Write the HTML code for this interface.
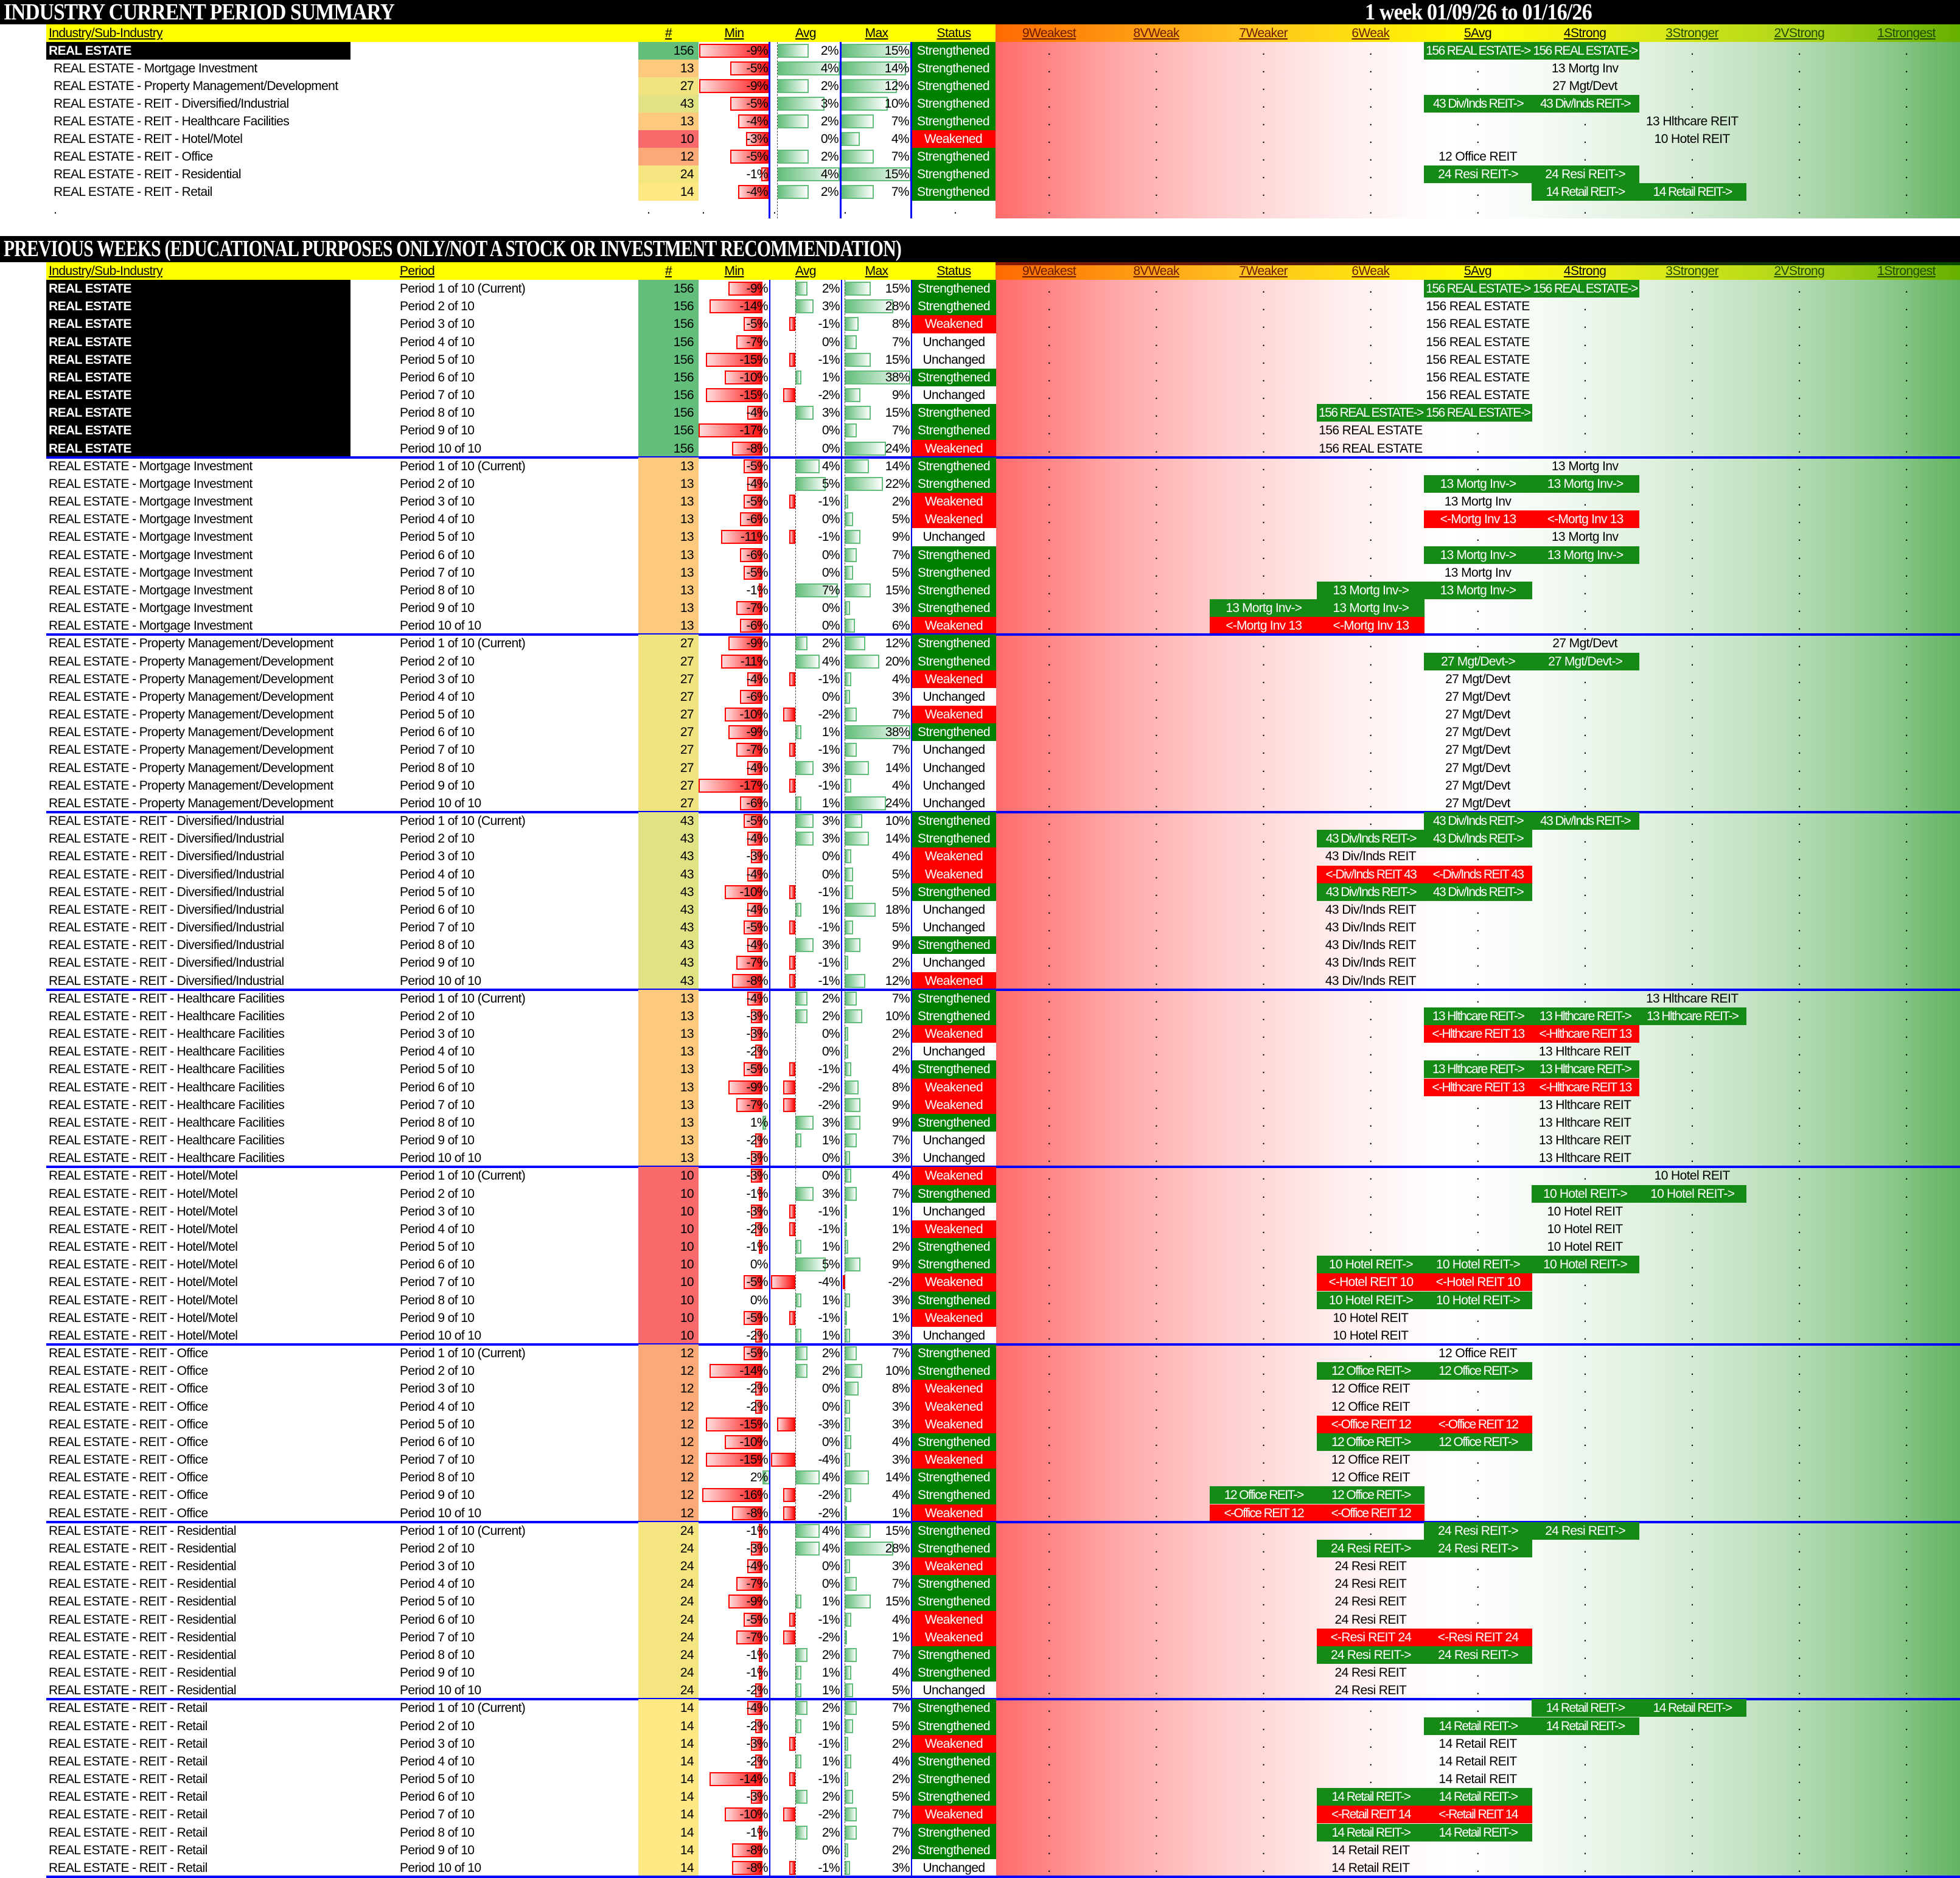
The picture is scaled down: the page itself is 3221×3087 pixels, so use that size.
<!DOCTYPE html>
<html><head><meta charset="utf-8">
<style>
html,body{margin:0;padding:0;background:#fff;}
#root{position:relative;width:3221px;height:3087px;overflow:hidden;font-family:"Liberation Sans",sans-serif;}
#root div{position:absolute;box-sizing:border-box;white-space:nowrap;}
.t{font-size:21px;line-height:29px;letter-spacing:-0.6px;color:#000;}
.title{color:#fff;font-family:"Liberation Serif",serif;font-weight:bold;font-size:38px;line-height:40px;transform-origin:left center;letter-spacing:-1px;}
.hdr{font-size:21px;line-height:29px;text-decoration:underline;letter-spacing:-0.6px;}
</style></head>
<body>
<div id="root"></div>
<script>
// ---- data ----
const FULL = ["REAL ESTATE","REAL ESTATE - Mortgage Investment","REAL ESTATE - Property Management/Development","REAL ESTATE - REIT - Diversified/Industrial","REAL ESTATE - REIT - Healthcare Facilities","REAL ESTATE - REIT - Hotel/Motel","REAL ESTATE - REIT - Office","REAL ESTATE - REIT - Residential","REAL ESTATE - REIT - Retail"];
const SHORT = ["REAL ESTATE","Mortg Inv","Mgt/Devt","Div/Inds REIT","Hlthcare REIT","Hotel REIT","Office REIT","Resi REIT","Retail REIT"];
const COUNTS = [156,13,27,43,13,10,12,24,14];
const RATING_LABELS = ["9Weakest","8VWeak","7Weaker","6Weak","5Avg","4Strong","3Stronger","2VStrong","1Strongest"];
const sumMin = [-9,-5,-9,-5,-4,-3,-5,-1,-4];
const sumAvg = [2,4,2,3,2,0,2,4,2];
const sumMax = [15,14,12,10,7,4,7,15,7];
const sumStatus = ["S","S","S","S","S","W","S","S","S"];
const sumRating = ["G4:2","L5","L5","G4:2","L6","L6","L4","G4:2","G5:2"];
const prevMin = [
 [-9,-14,-5,-7,-15,-10,-15,-4,-17,-8],
 [-5,-4,-5,-6,-11,-6,-5,-1,-7,-6],
 [-9,-11,-4,-6,-10,-9,-7,-4,-17,-6],
 [-5,-4,-3,-4,-10,-4,-5,-4,-7,-8],
 [-4,-3,-3,-2,-5,-9,-7,1,-2,-3],
 [-3,-1,-3,-2,-1,0,-5,0,-5,-2],
 [-5,-14,-2,-2,-15,-10,-15,2,-16,-8],
 [-1,-3,-4,-7,-9,-5,-7,-1,-1,-2],
 [-4,-2,-3,-2,-14,-3,-10,-1,-8,-8]];
const prevAvg = [
 [2,3,-1,0,-1,1,-2,3,0,0],
 [4,5,-1,0,-1,0,0,7,0,0],
 [2,4,-1,0,-2,1,-1,3,-1,1],
 [3,3,0,0,-1,1,-1,3,-1,-1],
 [2,2,0,0,-1,-2,-2,3,1,0],
 [0,3,-1,-1,1,5,-4,1,-1,1],
 [2,2,0,0,-3,0,-4,4,-2,-2],
 [4,4,0,0,1,-1,-2,2,1,1],
 [2,1,-1,1,-1,2,-2,2,0,-1]];
const prevMax = [
 [15,28,8,7,15,38,9,15,7,24],
 [14,22,2,5,9,7,5,15,3,6],
 [12,20,4,3,7,38,7,14,4,24],
 [10,14,4,5,5,18,5,9,2,12],
 [7,10,2,2,4,8,9,9,7,3],
 [4,7,1,1,2,9,-2,3,1,3],
 [7,10,8,3,3,4,3,14,4,1],
 [15,28,3,7,15,4,1,7,4,5],
 [7,5,2,4,2,5,7,7,2,3]];
const prevStatus = [
 ["S","S","W","U","U","S","U","S","S","W"],
 ["S","S","W","W","U","S","S","S","S","W"],
 ["S","S","W","U","W","S","U","U","U","U"],
 ["S","S","W","W","S","U","U","S","U","W"],
 ["S","S","W","U","S","W","W","S","U","U"],
 ["W","S","U","W","S","S","W","S","W","U"],
 ["S","S","W","W","W","S","W","S","S","W"],
 ["S","S","W","S","S","W","W","S","S","U"],
 ["S","S","W","S","S","S","W","S","S","U"]];
const prevRating = [
 ["G4:2","L4","L4","L4","L4","L4","L4","G3:2","L3","L3"],
 ["L5","G4:2","L4","R4:2","L5","G4:2","L4","G3:2","G2:2","R2:2"],
 ["L5","G4:2","L4","L4","L4","L4","L4","L4","L4","L4"],
 ["G4:2","G3:2","L3","R3:2","G3:2","L3","L3","L3","L3","L3"],
 ["L6","G4:3","R4:2","L5","G4:2","R4:2","L5","L5","L5","L5"],
 ["L6","G5:2","L5","L5","L5","G3:3","R3:2","G3:2","L3","L3"],
 ["L4","G3:2","L3","L3","R3:2","G3:2","L3","L3","G2:2","R2:2"],
 ["G4:2","G3:2","L3","L3","L3","L3","R3:2","G3:2","L3","L3"],
 ["G5:2","G4:2","L4","L4","L4","G3:2","R3:2","G3:2","L3","L3"]];

// ---- layout ----
const root = document.getElementById('root');
const R0 = 1636, RW = (3221-1636)/9;
function mk(name, inter, x, y, w, h, css, text) {
  const el = document.createElement('div');
  
  
  el.style.cssText = `left:${x}px;top:${y}px;width:${w}px;height:${h}px;` + (css||'');
  if (text !== undefined) el.textContent = text;
  root.appendChild(el);
  return el;
}
const countColor = {156:'#63be7b',13:'#fdc97d',27:'#f1e480',43:'#e1e283',10:'#f8696b',12:'#fbaa77',24:'#f4e581',14:'#ffe884'};
const REDBAR = 'background:linear-gradient(to right,#ffdcdc,#ff1010);border:2px solid #ff0000;';
const GRNBAR = 'background:linear-gradient(to right,#63be7b,#ffffff);border:2px solid #63be7b;';

function titleBar(y, h, text, name, sx) {
  mk(name+'-bar','false',0,y,3221,h,'background:#000;');
  const t = mk(name,'false',6,y,2000,h,'','');
  t.className='title';
  t.style.lineHeight = h+'px';
  t.style.transform='scaleX('+sx+')';
  t.textContent = text;
}
function header(y, withPeriod, name) {
  mk(name+'-bg','false',76,y,R0-76,29,'background:#ffff00;');
  mk(name+'-rating-bg','false',R0,y,3221-R0,29,'background:linear-gradient(to right,#ff6a00 0%,#ffc020 25%,#ffff00 50%,#eef018 62%,#a8d418 85%,#66b000 100%);');
  const hs = [['header-industry','Industry/Sub-Industry',80,'left',400]];
  if (withPeriod) hs.push(['header-period','Period',657,'left',200]);
  hs.push(['header-count','#',1049,'center',99],['header-min','Min',1148,'center',117],['header-avg','Avg',1265,'center',118],['header-max','Max',1383,'center',115],['header-status','Status',1498,'center',139]);
  hs.forEach(h=>{ const e=mk(h[0],'false',h[2],y,h[4],29,`text-align:${h[3]};font-weight:normal;`,h[1]); e.className='hdr'; });
  RATING_LABELS.forEach((l,c)=>{
    const col = c<4 ? '#6b1a00' : (c<6 ? '#000' : '#1f4a00');
    const e = mk('header-rating-'+l.toLowerCase(),'false',R0+c*RW,y,RW,29,`text-align:center;color:${col};`,l);
    e.className='hdr';
  });
}
function ratingBg(y, h, name) {
  mk(name,'false',R0,y,3221-R0,h,'background:linear-gradient(to right,#ff6b6b 0%,#ffa6a6 12%,#ffcfcf 24%,#ffeeee 36%,#ffffff 47%,#f6fbf6 56%,#dff0df 68%,#bfe0bf 80%,#8fca8f 92%,#63b363 100%);');
}
function ratingCells(y, h, spec, gi) {
  const type = spec[0];
  const parts = spec.slice(1).split(':');
  const c0 = +parts[0], span = parts[1] ? +parts[1] : 1;
  for (let c=0;c<9;c++) {
    const x = R0 + c*RW;
    if (c>=c0 && c<c0+span) {
      let txt, css;
      if (type==='L') { txt = COUNTS[gi]+' '+SHORT[gi]; css='text-align:center;'; }
      else if (type==='G') { txt = COUNTS[gi]+' '+SHORT[gi]+'->'; css='text-align:center;background:#168a16;'; }
      else { txt = '<-'+SHORT[gi]+' '+COUNTS[gi]; css='text-align:center;background:#ff0000;'; }
      const e = mk(type==='L'?'rating-label':'rating-move-box','false',x,y,RW+(type==='L'?0:1),h,css,txt);
      e.className='t';
      e.style.lineHeight = h+'px';
      if (type!=='L') { e.style.color='#fff'; e.style.letterSpacing = txt.length>15 ? '-1.6px' : '-0.8px'; }
    } else {
      const e = mk('rating-dot','false',x,y,RW,h,'text-align:center;','.');
      e.className='t';
      e.style.lineHeight = h+'px';
    }
  }
}
function statusCell(x, y, w, h, s) {
  const map = {S:['Strengthened','#008000','#fff'],W:['Weakened','#ff0000','#fff'],U:['Unchanged','#fff','#000']};
  const m = map[s];
  const e = mk('status-'+m[0].toLowerCase(),'false',x,y,w,h,`background:${m[1]};text-align:center;`,m[0]);
  e.className='t'; e.style.lineHeight=h+'px'; e.style.color=m[2];
}
function barsRow(y, h, mn, av, mx, ax, name) {
  if (mn<0) mk(name+'-min-bar','false',ax.min + mn*ax.minS,y+3,-mn*ax.minS,h-6,REDBAR);
  else if (mn>0) mk(name+'-min-bar','false',ax.min,y+3,mn*ax.minS,h-6,GRNBAR);
  let e = mk(name+'-min-value','false',ax.min-100,y,ax.minEnd-(ax.min-100),h,'text-align:right;',mn+'%'); e.className='t'; e.style.lineHeight=h+'px';
  if (av<0) mk(name+'-avg-bar','false',ax.avg + av*ax.avgS,y+3,-av*ax.avgS,h-6,REDBAR);
  else if (av>0) mk(name+'-avg-bar','false',ax.avg,y+3,av*ax.avgS,h-6,GRNBAR);
  e = mk(name+'-avg-value','false',ax.avg,y,ax.avgEnd-ax.avg,h,'text-align:right;',av+'%'); e.className='t'; e.style.lineHeight=h+'px';
  if (mx>0) mk(name+'-max-bar','false',ax.max,y+3,mx*ax.maxS,h-6,GRNBAR);
  else if (mx<0) mk(name+'-max-bar','false',ax.max-3,y+3,3,h-6,REDBAR);
  e = mk(name+'-max-value','false',ax.max,y,ax.maxEnd-ax.max,h,'text-align:right;',mx+'%'); e.className='t'; e.style.lineHeight=h+'px';
}

// ===== Section 1: summary =====
titleBar(0,40,'INDUSTRY CURRENT PERIOD SUMMARY','summary-title',0.88);
{ const d = mk('summary-date-range','false',2243,0,600,40,'','1 week 01/09/26 to 01/16/26'); d.className='title'; d.style.transform='scaleX(0.9)'; }
header(40,false,'summary-header');
ratingBg(69, 290, 'summary-rating-background');
const AX1 = {min:1264,minS:12.8,minEnd:1262,avg:1278,avgS:25.5,avgEnd:1378,max:1383,maxS:7.6,maxEnd:1494};
for (let i=0;i<9;i++) {
  const y = 69 + i*29, h = 29;
  if (i===0) { mk('summary-industry-bg','false',76,y,500,h,'background:#000;'); const e=mk('summary-industry-name','false',80,y,490,h,'font-weight:bold;',FULL[i]); e.className='t'; e.style.color='#fff'; }
  else { const e=mk('summary-subindustry-name','false',88,y,600,h,'',FULL[i]); e.className='t'; }
  const c = mk('summary-count','false',1049,y,99,h,`background:${countColor[COUNTS[i]]};text-align:right;padding-right:8px;`,String(COUNTS[i])); c.className='t';
  barsRow(y,h,sumMin[i],sumAvg[i],sumMax[i],AX1,'summary');
  statusCell(1497,y,139,h,sumStatus[i]);
  ratingCells(y,h,sumRating[i],i);
}
{ const y=330;
  [[88,'name'],[1063,'count'],[1153,'min'],[1270,'avg'],[1386,'max'],[1567,'status']].forEach(p=>{ const e=mk('summary-blank-dot','false',p[0],y,10,29,'','.'); e.className='t'; });
  for (let c=0;c<9;c++){ const e=mk('rating-dot','false',R0+c*RW,y,RW,29,'text-align:center;','.'); e.className='t'; }
}
[1264,1381,1497].forEach(x=>mk('summary-column-divider','false',x-1,69,3,290,'background:#0000ff;'));
mk('summary-avg-axis','false',1277,69,0,290,'border-left:1px dashed #444;');

// ===== Section 2: previous weeks =====
titleBar(388,43,'PREVIOUS WEEKS (EDUCATIONAL PURPOSES ONLY/NOT A STOCK OR INVESTMENT RECOMMENDATION)','previous-title',0.78);
header(431,true,'previous-header');
mk('previous-header-top-strip','false',R0,431,3221-R0,5,'background:linear-gradient(to right,#8b1a00,#3a1a10 45%,#202010 60%,#0a4a00);');
const RH = (3085-460)/90;
ratingBg(460, 3087-460, 'previous-rating-background');
const AX2 = {min:1253,minS:6.2,minEnd:1262,avg:1307,avgS:10,avgEnd:1380,max:1388,maxS:2.85,maxEnd:1495};
for (let g=0; g<9; g++) {
  for (let p=0; p<10; p++) {
    const y = 460 + (g*10+p)*RH, h = RH;
    if (g===0) { mk('previous-industry-bg','false',76,y,500,h+0.5,'background:#000;'); const e=mk('previous-industry-name','false',80,y,490,h,'font-weight:bold;',FULL[g]); e.className='t'; e.style.color='#fff'; e.style.lineHeight=h+'px'; }
    else { const e=mk('previous-subindustry-name','false',80,y,570,h,'',FULL[g]); e.className='t'; e.style.lineHeight=h+'px'; }
    const pe = mk('previous-period','false',657,y,380,h,'', 'Period '+(p+1)+' of 10'+(p===0?' (Current)':'')); pe.className='t'; pe.style.lineHeight=h+'px';
    const c = mk('previous-count','false',1049,y,99,h+0.5,`background:${countColor[COUNTS[g]]};text-align:right;padding-right:8px;`,String(COUNTS[g])); c.className='t'; c.style.lineHeight=h+'px';
    barsRow(y,h,prevMin[g][p],prevAvg[g][p],prevMax[g][p],AX2,'previous');
    statusCell(1498,y,139,h+0.5,prevStatus[g][p]);
    ratingCells(y,h,prevRating[g][p],g);
  }
  mk('group-separator','false',76,460+(g*10+10)*RH-2,3221-76,4,'background:#0000ff;');
}
[1265,1383,1498].forEach(x=>mk('previous-column-divider','false',x-1,460,2,3087-460,'background:#0000ff;'));
mk('previous-avg-axis','false',1307,460,0,3087-460,'border-left:1px dashed #444;');
mk('previous-max-axis','false',1388,460,0,3087-460,'border-left:1px dashed #444;');
</script>
</body></html>
